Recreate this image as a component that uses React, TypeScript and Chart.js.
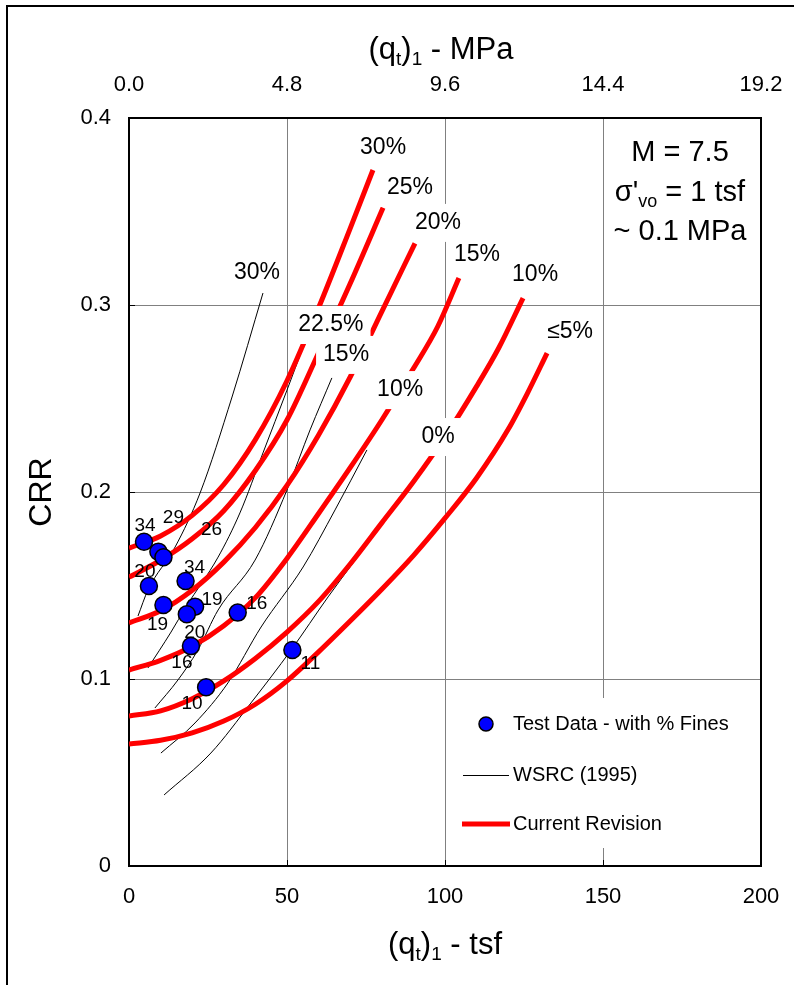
import React, { useEffect, useRef } from "react";
import { Chart, registerables } from "chart.js";

Chart.register(...registerables);

const FONT = "'Liberation Sans', Arial, Helvetica, sans-serif";

// ---- axis ticks ----
const tsfTicks = [0, 50, 100, 150, 200];
const mpaTicks = [0.0, 4.8, 9.6, 14.4, 19.2];
const crrTicks = [0, 0.1, 0.2, 0.3, 0.4];

// ---- test data (qt1 in tsf, CRR, % fines) ----
const testQt = [4.75, 9.3, 10.9, 6.3, 17.9, 10.9, 20.9, 18.3, 19.6, 34.4, 24.4, 51.7];
const testCrr = [0.1734, 0.1681, 0.1651, 0.1497, 0.1524, 0.1396, 0.1387, 0.1346, 0.1176, 0.1355, 0.0956, 0.1155];
const testFines = ["34", "29", "26", "20", "34", "19", "19", "20", "16", "16", "10", "11"];

// ---- Current Revision curves ----
const rev30Qt = [0, 10, 20, 30, 40, 50, 60, 70, 77.2];
const rev30Crr = [0.17, 0.1765, 0.1875, 0.204, 0.228, 0.2595, 0.2985, 0.341, 0.3722];
const rev25Qt = [0, 10, 20, 30, 40, 50, 60, 70, 80.4];
const rev25Crr = [0.1545, 0.1635, 0.175, 0.19, 0.2115, 0.2385, 0.2745, 0.3115, 0.352];
const rev20Qt = [0, 10, 20, 30, 40, 50, 60, 70, 80, 90.5];
const rev20Crr = [0.13, 0.1365, 0.1475, 0.1625, 0.181, 0.2035, 0.2305, 0.2615, 0.2965, 0.333];
const rev15Qt = [0, 10, 20, 30, 40, 50, 60, 70, 80, 90, 97.7, 104.4];
const rev15Crr = [0.1048, 0.11, 0.1175, 0.1285, 0.1435, 0.1645, 0.1885, 0.213, 0.2385, 0.266, 0.2885, 0.3144];
const rev10Qt = [0, 10, 20, 30, 40, 50, 60, 70, 80, 90, 100, 110, 117, 124.7];
const rev10Crr = [0.0802, 0.083, 0.0895, 0.099, 0.111, 0.1251, 0.1415, 0.1615, 0.1835, 0.2055, 0.2295, 0.2565, 0.277, 0.3037];
const rev5Qt = [0, 10, 20, 30, 40, 50, 60, 70, 80, 90, 100, 110, 120, 126, 132.3];
const rev5Crr = [0.0652, 0.0672, 0.0712, 0.0775, 0.0865, 0.099, 0.1145, 0.131, 0.148, 0.166, 0.186, 0.2075, 0.2335, 0.2525, 0.2743];
const revLabels = ["30%", "25%", "20%", "15%", "10%", "≤5%"];
const revLabelQt = [80.4, 88.9, 97.8, 110.1, 128.5, 139.6];
const revLabelCrr = [0.384, 0.3626, 0.3439, 0.3267, 0.316, 0.2856];

// ---- WSRC (1995) curves ----
const wsrc30Qt = [2.85, 6.0, 14.6, 22.5, 32.6, 42.4];
const wsrc30Crr = [0.1337, 0.1476, 0.1706, 0.1995, 0.2508, 0.3064];
const wsrc225Qt = [6.0, 13.3, 18.0, 28.2, 35.1, 42.4, 50.0, 55.1];
const wsrc225Crr = [0.1059, 0.1251, 0.1385, 0.1652, 0.1888, 0.2209, 0.2545, 0.2775];
const wsrc15Qt = [8.2, 15.5, 21.8, 28.2, 39.9, 50.0, 57.3, 64.2];
const wsrc15Crr = [0.0845, 0.0995, 0.1155, 0.1369, 0.1636, 0.2011, 0.2332, 0.261];
const wsrc10Qt = [10.1, 20.9, 31.3, 41.8, 55.1, 65.2, 75.3];
const wsrc10Crr = [0.0604, 0.0765, 0.0979, 0.1278, 0.1599, 0.1904, 0.2225];
const wsrc0Qt = [11.1, 25.9, 38.6, 51.3, 63.0, 79.4, 95.3];
const wsrc0Crr = [0.038, 0.0604, 0.0872, 0.1155, 0.1439, 0.1813, 0.2182];
const wsrcLabels = ["30%", "22.5%", "15%", "10%", "0%"];
const wsrcLabelQt = [40.5, 63.9, 68.7, 85.8, 97.8];
const wsrcLabelCrr = [0.3171, 0.2893, 0.2733, 0.2545, 0.2294];

// label placement (pixel offsets from each test point)
const finesLabelOffsets = [
  [1, -16], [15, -34], [48, -27], [-4, -14], [9, -13], [-6, 20],
  [17, -7], [8, 18], [-9, 17], [19, -9], [-14, 17], [18, 14],
];

const pts = (xs: number[], ys: number[]) => xs.map((x, i) => ({ x, y: ys[i] }));

type Part = { t: string; sub?: boolean };

function drawRich(ctx: CanvasRenderingContext2D, parts: Part[], cx: number, cy: number, size: number) {
  const subSize = Math.round(size * 0.62);
  let total = 0;
  const widths = parts.map((p) => {
    ctx.font = `${p.sub ? subSize : size}px ${FONT}`;
    const w = ctx.measureText(p.t).width;
    total += w;
    return w;
  });
  let x = cx - total / 2;
  ctx.textAlign = "left";
  ctx.textBaseline = "middle";
  parts.forEach((p, i) => {
    ctx.font = `${p.sub ? subSize : size}px ${FONT}`;
    ctx.fillText(p.t, x, p.sub ? cy + size * 0.3 : cy);
    x += widths[i];
  });
}

const framePlugin = {
  id: "frame",
  beforeDatasetsDraw(chart: any) {
    const { ctx, chartArea: ca, scales } = chart;
    ctx.save();
    ctx.strokeStyle = "#000";
    ctx.lineWidth = 1;
    ctx.beginPath();
    crrTicks.forEach((v) => {
      const py = Math.round(scales.y.getPixelForValue(v)) + 0.5;
      ctx.moveTo(ca.left, py);
      ctx.lineTo(ca.left + 6, py);
    });
    tsfTicks.forEach((v) => {
      const px = Math.round(scales.x.getPixelForValue(v)) + 0.5;
      ctx.moveTo(px, ca.bottom);
      ctx.lineTo(px, ca.bottom - 6);
    });
    ctx.stroke();
    ctx.lineWidth = 2;
    ctx.strokeRect(ca.left, ca.top, ca.right - ca.left, ca.bottom - ca.top);
    ctx.restore();
  },
};

const labelsPlugin = {
  id: "curveLabels",
  afterDatasetsDraw(chart: any) {
    const { ctx, scales } = chart;
    const x = scales.x;
    const y = scales.y;
    ctx.save();
    const boxLabel = (text: string, qx: number, qy: number) => {
      const px = x.getPixelForValue(qx);
      const py = y.getPixelForValue(qy);
      ctx.font = `23px ${FONT}`;
      const w = ctx.measureText(text).width;
      ctx.fillStyle = "#fff";
      ctx.fillRect(px - w / 2 - 7, py - 19, w + 14, 38);
      ctx.fillStyle = "#000";
      ctx.textAlign = "center";
      ctx.textBaseline = "middle";
      ctx.fillText(text, px, py);
    };
    revLabels.forEach((t, i) => boxLabel(t, revLabelQt[i], revLabelCrr[i]));
    wsrcLabels.forEach((t, i) => boxLabel(t, wsrcLabelQt[i], wsrcLabelCrr[i]));

    ctx.font = `19px ${FONT}`;
    ctx.fillStyle = "#000";
    ctx.textAlign = "center";
    ctx.textBaseline = "middle";
    testFines.forEach((t, i) => {
      const px = x.getPixelForValue(testQt[i]);
      const py = y.getPixelForValue(testCrr[i]);
      ctx.fillText(t, px + finesLabelOffsets[i][0], py + finesLabelOffsets[i][1]);
    });
    ctx.restore();
  },
  afterDraw(chart: any) {
    const { ctx, chartArea: ca } = chart;
    ctx.save();
    ctx.fillStyle = "#000";
    const cx = (ca.left + ca.right) / 2;
    // axis titles
    drawRich(ctx, [{ t: "(q" }, { t: "t", sub: true }, { t: ")" }, { t: "1", sub: true }, { t: " - MPa" }], cx - 4, ca.top - 68, 31);
    drawRich(ctx, [{ t: "(q" }, { t: "t", sub: true }, { t: ")" }, { t: "1", sub: true }, { t: " - tsf" }], cx, ca.bottom + 79, 31);
    ctx.save();
    ctx.translate(ca.left - 87, (ca.top + ca.bottom) / 2);
    ctx.rotate(-Math.PI / 2);
    ctx.font = `32px ${FONT}`;
    ctx.textAlign = "center";
    ctx.textBaseline = "middle";
    ctx.fillText("CRR", 0, 0);
    ctx.restore();

    // annotation
    const ax = ca.right - 81;
    ctx.font = `29px ${FONT}`;
    ctx.textAlign = "center";
    ctx.textBaseline = "middle";
    ctx.fillText("M = 7.5", ax, ca.top + 35);
    drawRich(ctx, [{ t: "σ'" }, { t: "vo", sub: true }, { t: " = 1 tsf" }], ax, ca.top + 75, 29);
    ctx.font = `29px ${FONT}`;
    ctx.textAlign = "center";
    ctx.textBaseline = "middle";
    ctx.fillText("~ 0.1 MPa", ax, ca.top + 114);

    // legend
    ctx.fillStyle = "#fff";
    ctx.fillRect(ca.right - 306, ca.bottom - 168, 305, 150);
    const tx = ca.right - 248;
    const r1 = ca.bottom - 142;
    const r2 = ca.bottom - 91;
    const r3 = ca.bottom - 42;
    ctx.beginPath();
    ctx.arc(ca.right - 275, r1, 7, 0, Math.PI * 2);
    ctx.fillStyle = "#0000FF";
    ctx.fill();
    ctx.lineWidth = 1.5;
    ctx.strokeStyle = "#000";
    ctx.stroke();
    ctx.beginPath();
    ctx.lineWidth = 1;
    ctx.moveTo(ca.right - 298, r2 + 0.5);
    ctx.lineTo(ca.right - 252, r2 + 0.5);
    ctx.stroke();
    ctx.beginPath();
    ctx.lineWidth = 5;
    ctx.strokeStyle = "#FF0000";
    ctx.moveTo(ca.right - 299, r3);
    ctx.lineTo(ca.right - 251, r3);
    ctx.stroke();
    ctx.fillStyle = "#000";
    ctx.font = `20px ${FONT}`;
    ctx.textAlign = "left";
    ctx.textBaseline = "middle";
    ctx.fillText("Test Data - with % Fines", tx, r1);
    ctx.fillText("WSRC (1995)", tx, r2);
    ctx.fillText("Current Revision", tx, r3);
    ctx.restore();
  },
};

export default function App() {
  const ref = useRef<HTMLCanvasElement | null>(null);

  useEffect(() => {
    if (!ref.current) return;
    const revCurves = [
      [rev30Qt, rev30Crr], [rev25Qt, rev25Crr], [rev20Qt, rev20Crr],
      [rev15Qt, rev15Crr], [rev10Qt, rev10Crr], [rev5Qt, rev5Crr],
    ];
    const wsrcCurves = [
      [wsrc30Qt, wsrc30Crr], [wsrc225Qt, wsrc225Crr], [wsrc15Qt, wsrc15Crr],
      [wsrc10Qt, wsrc10Crr], [wsrc0Qt, wsrc0Crr],
    ];
    const tickFont = { family: FONT, size: 22 };
    const chart = new Chart(ref.current, {
      type: "scatter",
      data: {
        datasets: [
          {
            label: "Test Data - with % Fines",
            data: pts(testQt, testCrr),
            pointRadius: 8.5,
            pointHoverRadius: 8.5,
            pointBackgroundColor: "#0000FF",
            pointBorderColor: "#000",
            pointBorderWidth: 1.5,
            showLine: false,
          } as any,
          ...revCurves.map((c, i) => ({
            label: "Current Revision " + revLabels[i],
            data: pts(c[0], c[1]),
            showLine: true,
            borderColor: "#FF0000",
            borderWidth: 5,
            pointRadius: 0,
            cubicInterpolationMode: "monotone",
            fill: false,
          })),
          ...wsrcCurves.map((c, i) => ({
            label: "WSRC (1995) " + wsrcLabels[i],
            data: pts(c[0], c[1]),
            showLine: true,
            borderColor: "#000",
            borderWidth: 1,
            pointRadius: 0,
            cubicInterpolationMode: "monotone",
            fill: false,
          })),
        ],
      },
      options: {
        responsive: false,
        animation: false,
        devicePixelRatio: 1,
        layout: { padding: { left: 0, right: 33, top: 0, bottom: 0 } },
        plugins: { legend: { display: false }, tooltip: { enabled: false } },
        scales: {
          x: {
            type: "linear",
            position: "bottom",
            min: 0,
            max: 200,
            afterBuildTicks: (s: any) => { s.ticks = tsfTicks.map((v) => ({ value: v })); },
            afterFit: (s: any) => { s.height = 119; s.paddingLeft = 0; s.paddingRight = 0; },
            grid: { color: "#808080", lineWidth: 1, drawTicks: false },
            border: { display: false },
            ticks: { font: tickFont, color: "#000", padding: 18, maxRotation: 0, autoSkip: false, callback: (v: any) => String(v) },
          },
          x2: {
            type: "linear",
            position: "top",
            min: 0,
            max: 19.2,
            afterBuildTicks: (s: any) => { s.ticks = mpaTicks.map((v) => ({ value: v })); },
            afterFit: (s: any) => { s.height = 118; s.paddingLeft = 0; s.paddingRight = 0; },
            grid: { display: false, drawTicks: false },
            border: { display: false },
            ticks: { font: tickFont, color: "#000", padding: 20, maxRotation: 0, autoSkip: false, callback: (v: any) => Number(v).toFixed(1) },
          },
          y: {
            type: "linear",
            min: 0,
            max: 0.4,
            afterBuildTicks: (s: any) => { s.ticks = crrTicks.map((v) => ({ value: v })); },
            afterFit: (s: any) => { s.width = 129; s.paddingTop = 0; s.paddingBottom = 0; },
            grid: { color: "#808080", lineWidth: 1, drawTicks: false },
            border: { display: false },
            ticks: { font: tickFont, color: "#000", padding: 18, autoSkip: false, callback: (v: any) => String(v) },
          },
        },
      } as any,
      plugins: [framePlugin, labelsPlugin],
    });
    return () => chart.destroy();
  }, []);

  return (
    <div style={{ position: "absolute", left: 0, top: 0, width: 794, height: 985, overflow: "hidden", background: "#fff" }}>
      <div
        style={{
          position: "absolute",
          left: 6,
          top: 5,
          width: 788,
          height: 980,
          borderTop: "2px solid #000",
          borderLeft: "2px solid #000",
          boxSizing: "border-box",
        }}
      />
      <canvas
        ref={ref}
        width={794}
        height={985}
        style={{ position: "absolute", left: 0, top: 0, width: 794, height: 985 }}
      />
    </div>
  );
}
